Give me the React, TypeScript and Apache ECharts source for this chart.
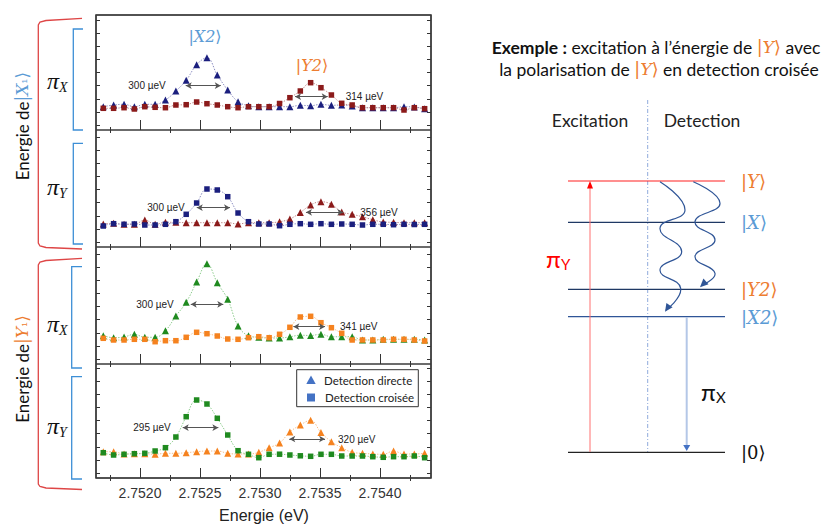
import React, { useEffect, useRef } from "react";
import * as echarts from "echarts";

// ---------- data ----------
const energies = [
  2.751694, 2.75178, 2.751867, 2.751953, 2.75204, 2.752126, 2.752212, 2.752299,
  2.752385, 2.752472, 2.752558, 2.752644, 2.752731, 2.752817, 2.752904, 2.75299,
  2.753076, 2.753163, 2.753249, 2.753336, 2.753422, 2.753508, 2.753595, 2.753681,
  2.753768, 2.753854, 2.75394, 2.754027, 2.754113, 2.7542, 2.754286, 2.754372,
];

// panel 1 : excitation |X1>, pi_X
const p1Direct = [1.83, 2.0, 2.07, 1.83, 2.07, 2.07, 2.5, 3.4, 4.47, 6.03, 6.73, 5.0, 3.5, 2.33, 1.93, 1.83, 1.83, 1.83, 1.83, 1.97, 1.93, 2.07, 1.97, 2.0, 1.9, 1.73, 1.73, 1.73, 1.73, 1.83, 1.8, 1.63];
const p1Crossed = [1.67, 1.67, 1.73, 1.6, 1.83, 1.77, 1.73, 2.0, 2.03, 2.3, 2.13, 2.0, 1.83, 1.73, 1.83, 1.83, 1.83, 2.15, 2.73, 3.4, 4.23, 3.73, 3.0, 2.17, 2.0, 1.73, 1.73, 1.73, 1.73, 1.5, 1.73, 1.63];
// panel 2 : excitation |X1>, pi_Y
const p2Direct = [1.8, 1.87, 1.77, 1.77, 2.2, 1.77, 1.97, 1.97, 1.93, 1.93, 1.93, 1.93, 1.93, 1.8, 1.93, 1.93, 1.93, 2.03, 2.3, 2.95, 3.7, 4.03, 3.77, 3.0, 2.77, 2.52, 2.23, 2.0, 1.97, 1.93, 1.93, 1.93];
const p2Crossed = [1.6, 1.83, 1.77, 1.8, 1.7, 1.7, 1.77, 2.03, 2.77, 3.9, 5.3, 5.2, 4.53, 2.9, 2.03, 1.8, 1.8, 1.63, 1.77, 1.83, 1.77, 1.83, 1.77, 1.8, 1.77, 1.7, 1.77, 1.77, 1.73, 1.77, 1.75, 1.77];
// panel 3 : excitation |Y1>, pi_X
const p3Direct = [2.33, 2.13, 2.2, 2.47, 2.17, 2.17, 2.83, 4.3, 5.67, 7.7, 9.53, 7.63, 5.97, 3.3, 2.33, 2.17, 2.1, 2.1, 2.22, 2.38, 2.35, 2.48, 2.22, 2.23, 2.23, 1.9, 1.9, 1.97, 1.97, 1.97, 1.97, 1.9];
const p3Crossed = [2.07, 1.9, 1.9, 1.97, 1.97, 1.73, 1.83, 1.83, 2.17, 2.67, 2.53, 2.3, 2.0, 1.97, 2.13, 2.23, 2.13, 2.47, 3.17, 4.2, 4.27, 3.63, 3.13, 2.57, 1.9, 1.9, 1.9, 1.9, 1.97, 1.97, 1.9, 1.8];
// panel 4 : excitation |Y1>, pi_Y
const p4Direct = [2.13, 2.13, 1.9, 1.93, 1.93, 1.87, 1.97, 1.97, 2.03, 2.13, 2.2, 2.2, 1.97, 1.9, 1.9, 2.07, 2.53, 3.0, 4.1, 4.8, 5.27, 4.05, 3.13, 2.53, 2.07, 1.97, 1.9, 1.87, 2.2, 1.9, 1.9, 1.97];
const p4Crossed = [2.03, 1.8, 1.87, 1.93, 1.97, 2.2, 2.53, 3.6, 5.63, 7.3, 6.9, 5.47, 3.8, 2.23, 1.87, 1.53, 1.87, 1.88, 1.8, 1.72, 1.67, 1.87, 1.87, 1.7, 1.7, 1.7, 1.63, 1.57, 1.63, 1.63, 1.7, 1.53];

const xMajorTicks = [2.752, 2.7525, 2.753, 2.7535, 2.754];
const xMinorTicks = [2.75175, 2.75225, 2.75275, 2.75325, 2.75375, 2.75425];
const yTickValues = [0, 1.31, 2.62, 3.93, 5.24, 6.55, 7.86, 9.17, 10.48];

const fwhmLabels = ["300 µeV", "314 µeV", "300 µeV", "356 µeV", "300 µeV", "341 µeV", "295 µeV", "320 µeV"];
const fwhmFrom = [2.752381, 2.753292, 2.752473, 2.753383, 2.752423, 2.753278, 2.752356, 2.753244];
const fwhmTo = [2.752673, 2.753564, 2.75275, 2.753694, 2.752694, 2.753542, 2.752653, 2.753542];
const fwhmLevel = [3.93, 2.83, 3.43, 2.97, 5.47, 3.23, 4.53, 3.4];

const legendLabels = ["Detection directe", "Detection croisée"];

// ---------- styling ----------
const NAVY = "#1b1f7e";
const NAVY_L = "#8a8cc0";
const DRED = "#8b1a1a";
const DRED_L = "#c08a8a";
const GREEN = "#1f8a1f";
const GREEN_L = "#8ccc8c";
const ORANGE = "#f5821f";
const ORANGE_L = "#f6bf8c";
const LBLUE = "#5b9bd5";
const LORANGE = "#ed7d31";

const X_MIN = 2.7516333;
const X_MAX = 2.754425;
const PLOT_LEFT = 96;
const PLOT_W = 335;
const panelTop = [15, 130, 247, 364];
const panelH = [115, 117, 117, 114];
const fwhmLabelDistance = [20, 18, 12, 17, 17, 15, 12, 13];

const panels = [
  { direct: p1Direct, crossed: p1Crossed, dc: NAVY, dl: NAVY_L, cc: DRED, cl: DRED_L },
  { direct: p2Direct, crossed: p2Crossed, dc: DRED, dl: DRED_L, cc: NAVY, cl: NAVY_L },
  { direct: p3Direct, crossed: p3Crossed, dc: GREEN, dl: GREEN_L, cc: ORANGE, cl: ORANGE_L },
  { direct: p4Direct, crossed: p4Crossed, dc: ORANGE, dl: ORANGE_L, cc: GREEN, cl: GREEN_L },
];

function xAxisCfg(grid: number, pos: string, ticks: number[], len: number, labels: boolean) {
  return {
    gridIndex: grid,
    type: "value",
    position: pos,
    min: X_MIN,
    max: X_MAX,
    axisLine: { show: false },
    splitLine: { show: false },
    axisTick: { show: true, inside: true, length: len, customValues: ticks, lineStyle: { color: "#333", width: 1 } },
    axisLabel: {
      show: labels,
      customValues: xMajorTicks,
      formatter: (v: number) => v.toFixed(4),
      margin: 8,
      fontSize: 14,
      color: "#333",
      fontFamily: "Liberation Sans",
    },
  };
}

function yAxisCfg(grid: number, pos: string, max: number, show: boolean) {
  return {
    gridIndex: grid,
    type: "value",
    position: pos,
    show,
    min: -0.5,
    max,
    axisLine: { show: false },
    splitLine: { show: false },
    axisLabel: { show: false },
    axisTick: { show: true, inside: true, length: 4, customValues: yTickValues, lineStyle: { color: "#333", width: 1 } },
  };
}

function bracket(points: number[][], color: string) {
  return { type: "polyline", z: 100, shape: { points }, style: { stroke: color, lineWidth: 1.3, fill: null } };
}

function txt(x: number, y: number, text: string, style: any, extra: any = {}) {
  return { type: "text", x, y, z: 100, ...extra, style: { text, align: "left", verticalAlign: "middle", ...style } };
}

function piLabel(x: number, y: number, sub: string, color: string, font: string, size: number, subSize: number, italic: boolean, subDx: number) {
  return [
    txt(x, y, "π", { fill: color, fontSize: size, fontFamily: font, fontStyle: italic ? "italic" : "normal" }),
    txt(x + subDx, y + size * 0.25, sub, { fill: color, fontSize: subSize, fontFamily: font, fontStyle: italic ? "italic" : "normal" }),
  ];
}

function ket(x: number, y: number, inner: string, color: string, size: number, italic: boolean, align = "left") {
  return txt(x, y, `{b||}{i|${inner}}{b|⟩}`, {
    align,
    rich: {
      b: { fill: color, fontSize: size, fontFamily: "DejaVu Sans" },
      i: { fill: color, fontSize: size, fontFamily: "DejaVu Serif", fontStyle: italic ? "italic" : "normal" },
    },
  });
}

function buildOption() {
  const grid: any[] = [];
  const xAxis: any[] = [];
  const yAxis: any[] = [];
  const series: any[] = [];

  for (let p = 0; p < 4; p++) {
    grid.push({
      left: PLOT_LEFT,
      top: panelTop[p],
      width: PLOT_W,
      height: panelH[p],
      show: true,
      borderColor: "#3a3a3a",
      borderWidth: 1,
      backgroundColor: "transparent",
    });
  }
  for (let p = 0; p < 4; p++) {
    grid.push({ left: PLOT_LEFT, top: panelTop[p], width: PLOT_W, height: panelH[p], show: false });
  }
  for (let p = 0; p < 4; p++) {
    xAxis.push(xAxisCfg(p, "bottom", xMajorTicks, 5, p === 3));
    xAxis.push(xAxisCfg(p, "top", xMajorTicks, 5, false));
    const ym = (panelH[p] - 5) / 10;
    yAxis.push(yAxisCfg(p, "left", ym, true));
    yAxis.push(yAxisCfg(p, "right", ym, true));
  }
  for (let p = 0; p < 4; p++) {
    xAxis.push(xAxisCfg(4 + p, "bottom", xMinorTicks, 3, false));
    xAxis.push(xAxisCfg(4 + p, "top", xMinorTicks, 3, false));
    yAxis.push({ gridIndex: 4 + p, type: "value", min: 0, max: 1, show: false });
    yAxis.push({ gridIndex: 4 + p, type: "value", min: 0, max: 1, show: false, position: "right" });
  }

  panels.forEach((pn, p) => {
    const markData = [0, 1].map((k) => {
      const j = 2 * p + k;
      return [
        {
          coord: [fwhmFrom[j], fwhmLevel[j]],
          label: { show: true, position: k === 0 ? "start" : "end", formatter: fwhmLabels[j], distance: fwhmLabelDistance[j] },
        },
        { coord: [fwhmTo[j], fwhmLevel[j]] },
      ];
    });
    series.push({
      type: "line",
      name: legendLabels[0],
      xAxisIndex: 2 * p,
      yAxisIndex: 2 * p,
      data: energies.map((e, i) => [e, pn.direct[i]]),
      symbol: "triangle",
      symbolSize: 7,
      smooth: 0.4,
      silent: true,
      lineStyle: { color: pn.dl, width: 1, type: [1.5, 1.5] },
      itemStyle: { color: pn.dc },
      z: 3,
      markLine: {
        silent: true,
        animation: false,
        symbol: ["arrow", "arrow"],
        symbolSize: [5, 6],
        lineStyle: { color: "#555", width: 1, type: "solid" },
        label: { show: true, color: "#222", fontSize: 10, fontFamily: "Liberation Sans", distance: 12 },
        data: markData,
      },
    });
    series.push({
      type: "line",
      name: legendLabels[1],
      xAxisIndex: 2 * p,
      yAxisIndex: 2 * p,
      data: energies.map((e, i) => [e, pn.crossed[i]]),
      symbol: "rect",
      symbolSize: 5.5,
      smooth: 0.4,
      silent: true,
      lineStyle: { color: pn.cl, width: 1, type: [1.5, 1.5] },
      itemStyle: { color: pn.cc },
      z: 3,
    });
  });

  // ---------- graphic ----------
  const g: any[] = [];
  g.push({ type: "rect", z: 101, shape: { x: PLOT_LEFT, y: 15, width: PLOT_W, height: 463 }, style: { stroke: "#3a3a3a", lineWidth: 1.6, fill: null } });

  // red brackets
  g.push(bracket([[82, 18.3], [46, 20.5], [40, 22], [38.3, 25], [38.3, 243], [40, 246], [46, 247.5], [82, 249]], "#de4646"));
  g.push(bracket([[82, 258.3], [46, 260.5], [40, 262], [38.3, 265], [38.3, 484], [40, 486.5], [46, 488], [82, 489.5]], "#de4646"));
  // blue brackets
  g.push(bracket([[83, 29], [73.3, 29], [73.3, 130], [83, 130]], "#3d8fd6"));
  g.push(bracket([[83, 143.3], [73.3, 143.3], [73.3, 244], [83, 244]], "#3d8fd6"));
  g.push(bracket([[82, 266.7], [71.7, 266.7], [71.7, 368], [82, 368]], "#3d8fd6"));
  g.push(bracket([[82, 376.7], [71.7, 376.7], [71.7, 479], [82, 479]], "#3d8fd6"));

  // pi labels on the left
  g.push(...piLabel(47, 81, "X", "#111", "Liberation Serif", 24, 14, true, 12));
  g.push(...piLabel(47, 187, "Y", "#111", "Liberation Serif", 24, 14, true, 12));
  g.push(...piLabel(47, 324, "X", "#111", "Liberation Serif", 24, 14, true, 12));
  g.push(...piLabel(47, 426, "Y", "#111", "Liberation Serif", 24, 14, true, 12));

  // rotated labels
  const rotLabel = (y: number, inner: string, color: string) =>
    txt(22, y, `{a|Energie de}{b||}{i|${inner}}{s|₁}{b|⟩}`, {
      align: "center",
      rich: {
        a: { fill: "#111", fontSize: 17, fontFamily: "Lato" },
        b: { fill: color, fontSize: 17, fontFamily: "DejaVu Sans" },
        i: { fill: color, fontSize: 17, fontFamily: "DejaVu Serif", fontStyle: "italic" },
        s: { fill: color, fontSize: 13, fontFamily: "DejaVu Serif" },
      },
    }, { rotation: Math.PI / 2 });
  g.push(rotLabel(126, "X", LBLUE));
  g.push(rotLabel(369, "Y", LORANGE));

  // peak labels in panel 1
  g.push(ket(205, 36, "X2", LBLUE, 16, true, "center"));
  g.push(ket(312, 65, "Y2", LORANGE, 16, true, "center"));

  // legend
  g.push({ type: "rect", z: 110, shape: { x: 296.7, y: 369.7, width: 121.6, height: 37 }, style: { stroke: "#333", lineWidth: 1, fill: "#fff" } });
  g.push({ type: "polygon", z: 111, shape: { points: [[311, 375.5], [306.3, 384], [315.7, 384]] }, style: { fill: "#4472c4" } });
  g.push({ type: "rect", z: 111, shape: { x: 307, y: 393.5, width: 8, height: 8 }, style: { fill: "#4472c4" } });
  g.push(txt(324, 380, legendLabels[0], { fill: "#222", fontSize: 11.5, fontFamily: "Lato" }, { z: 111 }));
  g.push(txt(325, 397.5, legendLabels[1], { fill: "#222", fontSize: 11.5, fontFamily: "Lato" }, { z: 111 }));

  // x axis title
  g.push(txt(264, 515, "Energie (eV)", { fill: "#222", fontSize: 16, fontFamily: "Liberation Sans", align: "center" }));

  // ---------- right diagram ----------
  const TF = 17.5;
  g.push(txt(656, 47, "{b|Exemple :}{n| excitation à l’énergie de }{o||}{oi|Y}{o|⟩}{n| avec}", {
    align: "center",
    rich: {
      b: { fill: "#111", fontSize: TF, fontFamily: "Lato", fontWeight: "bold" },
      n: { fill: "#111", fontSize: TF, fontFamily: "Lato" },
      o: { fill: LORANGE, fontSize: TF, fontFamily: "DejaVu Sans" },
      oi: { fill: LORANGE, fontSize: TF, fontFamily: "DejaVu Serif", fontStyle: "italic" },
    },
  }));
  g.push(txt(659, 69, "{n|la polarisation de }{o||}{oi|Y}{o|⟩}{n| en detection croisée}", {
    align: "center",
    rich: {
      n: { fill: "#111", fontSize: TF, fontFamily: "Lato" },
      o: { fill: LORANGE, fontSize: TF, fontFamily: "DejaVu Sans" },
      oi: { fill: LORANGE, fontSize: TF, fontFamily: "DejaVu Serif", fontStyle: "italic" },
    },
  }));
  g.push(txt(590, 120, "Excitation", { fill: "#222", fontSize: TF, fontFamily: "Lato", align: "center" }));
  g.push(txt(702, 120, "Detection", { fill: "#222", fontSize: TF, fontFamily: "Lato", align: "center" }));

  // dash-dot separator
  g.push({ type: "line", z: 100, shape: { x1: 647.7, y1: 100, x2: 647.7, y2: 452 }, style: { stroke: "#8faadc", lineWidth: 1, lineDash: [4, 2, 1, 2] } });

  // levels
  const lvl = (y: number, color: string, w = 1.2) =>
    ({ type: "line", z: 100, shape: { x1: 568, y1: y, x2: 725, y2: y }, style: { stroke: color, lineWidth: w } });
  g.push(lvl(181, "#ff2020"));
  g.push(lvl(222.3, "#1f3864"));
  g.push(lvl(289.3, "#1f3864"));
  g.push(lvl(316.7, "#2f5597"));
  g.push(lvl(452.3, "#222"));

  g.push(ket(741, 181, "Y", LORANGE, 18, true));
  g.push(ket(741, 222, "X", LBLUE, 18, true));
  g.push(ket(741, 289, "Y2", LORANGE, 18, true));
  g.push(ket(741, 317, "X2", LBLUE, 18, true));
  g.push(ket(741, 452, "0", "#111", 18, false));

  // excitation arrow
  g.push({ type: "line", z: 100, shape: { x1: 590, y1: 452, x2: 590, y2: 186 }, style: { stroke: "#ff7070", lineWidth: 1 } });
  g.push({ type: "polygon", z: 101, shape: { points: [[590, 181], [587, 188.5], [593, 188.5]] }, style: { fill: "#ff0000" } });
  g.push(...piLabel(546, 258, "Y", "#ff0000", "Lato", 24, 15, false, 15));

  // detection arrow
  g.push({ type: "line", z: 100, shape: { x1: 686.7, y1: 317, x2: 686.7, y2: 446 }, style: { stroke: "#b4c7e7", lineWidth: 2 } });
  g.push({ type: "polygon", z: 101, shape: { points: [[683.2, 445], [690.2, 445], [686.7, 451]] }, style: { fill: "#4472c4" } });
  g.push(...piLabel(701, 391, "X", "#111", "Lato", 24, 15, false, 15));

  // wavy relaxation arrows
  g.push({ type: "polyline", z: 100, shape: { points: [[660, 181.7], [685, 210], [660, 228.3], [681.7, 251.7], [660, 270], [680.7, 288.3], [666, 310]], smooth: 0.5 }, style: { stroke: "#2f5597", lineWidth: 1.2, fill: null } });
  g.push({ type: "polygon", z: 101, shape: { points: [[665, 311.7], [672.6, 307.2], [666.4, 302.9]] }, style: { fill: "#2f5597" } });
  g.push({ type: "polyline", z: 100, shape: { points: [[693.3, 181.7], [720, 203.3], [695, 221.7], [715, 240], [695, 256.7], [715, 273.3], [701, 285.7]], smooth: 0.5 }, style: { stroke: "#2f5597", lineWidth: 1.2, fill: null } });
  g.push({ type: "polygon", z: 101, shape: { points: [[700, 287.3], [708.5, 284.2], [703.4, 278.5]] }, style: { fill: "#2f5597" } });

  return {
    animation: false,
    backgroundColor: "#fff",
    grid,
    xAxis,
    yAxis,
    series,
    graphic: { elements: g },
  };
}

export default function App() {
  const ref = useRef<HTMLDivElement>(null);
  useEffect(() => {
    const chart = echarts.init(ref.current!, null, { renderer: "svg" });
    chart.setOption(buildOption() as any);
    return () => chart.dispose();
  }, []);
  return (
    <div
      ref={ref}
      style={{ position: "fixed", left: 0, top: 0, width: 830, height: 525, background: "#fff" }}
    />
  );
}
